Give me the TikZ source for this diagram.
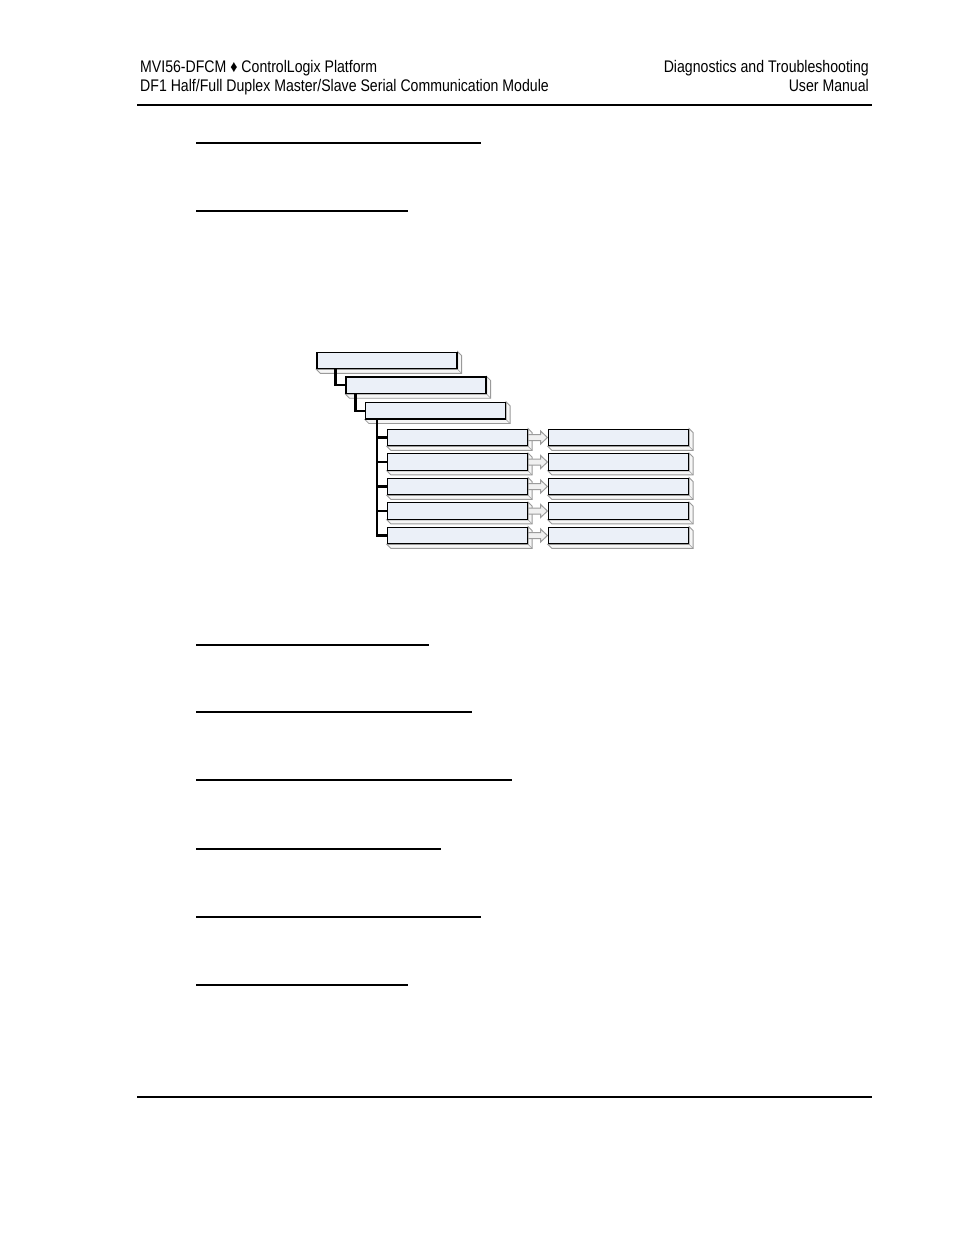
\documentclass[tikz,border=0pt]{standalone}
\usepackage{fontspec}
\setmainfont[FakeStretch=0.84]{Liberation Sans}
\usetikzlibrary{calc}
\pgfdeclarelayer{bottom}
\pgfdeclarelayer{back}
\pgfsetlayers{bottom,back,main}
\definecolor{boxfill}{HTML}{EBF0F8}
\definecolor{sidefill}{HTML}{F6F6F6}
\definecolor{sidedraw}{HTML}{9A9A9A}
\definecolor{arrfill}{HTML}{F0F0F0}
\definecolor{arrdraw}{HTML}{9C9C9C}
\tikzset{
  x=1pt, y=-1pt,
  box/.style={draw=black, line width=1.2pt, fill=boxfill, rectangle,
    minimum width=140pt, minimum height=16.5pt, inner sep=0pt},
  side/.style={draw=sidedraw, line width=0.8pt, fill=sidefill, line join=miter},
  conn/.style={draw=black, line width=2.2pt},
  blockarrow/.style={draw=arrdraw, fill=arrfill, line width=1pt},
  rule/.style={draw=black, line width=1.3pt},
  hdr/.style={font=\fontsize{16.8}{19}\selectfont, inner sep=0pt}
}
\newcommand{\extrude}[1]{%
  \path[side] (#1.north east) -- ++(4,4) -- ($(#1.south east)+(4,4)$) -- ($(#1.south west)+(4,4)$) -- (#1.south west) -- (#1.south east) -- cycle;
  \draw[sidedraw, line width=0.6pt] (#1.south east) -- ++(4,4);
}
\begin{document}
\begin{tikzpicture}
\useasboundingbox (0,0) rectangle (954,1235);
\begin{pgfonlayer}{bottom}
\fill[white] (0,0) rectangle (954,1235);
\end{pgfonlayer}

% header
\node[hdr, anchor=base west] (h1) at (140,72) {MVI56-DFCM ♦ ControlLogix Platform};
\node[hdr, anchor=base west] (h2) at (140,91) {DF1 Half/Full Duplex Master/Slave Serial Communication Module};
\node[hdr, anchor=base east] (h3) at (869,72) {Diagnostics and Troubleshooting};
\node[hdr, anchor=base east] (h4) at (869,91) {User Manual};
\draw[rule] (137,105) -- (872,105);
\draw[rule] (137,1097) -- (872,1097);

% underlines
\foreach \yy/\xe in {143/481, 211/408, 645/429, 712/472, 780/512, 849/441, 917/481, 985/408}
  \draw[rule] (196,\yy) -- (\xe,\yy);

% tree boxes
\node[box] (b1) at (387,360.5) {};
\node[box] (b2) at (416,385.3) {};
\node[box] (b3) at (435.5,410.7) {};
\foreach \i/\yy in {1/437.5, 2/462, 3/486.5, 4/511, 5/535.5} {
  \node[box] (L\i) at (457.5,\yy) {};
  \node[box] (R\i) at (618.5,\yy) {};
}

\begin{pgfonlayer}{back}
% extrusions
\foreach \n in {b1,b2,b3,L1,L2,L3,L4,L5,R1,R2,R3,R4,R5} {
  \extrude{\n}
}
% block arrows
\foreach \i in {1,...,5} {
  \path[blockarrow] ($(L\i.east)+(0,-3)$) -- ++(12.5,0) -- ++(0,-3.5) -- ($(R\i.west)+(-0.5,0)$) -- ($(L\i.east)+(12.5,6.5)$) -- ++(0,-3.5) -- ++(-12.5,0) -- cycle;
}
\end{pgfonlayer}

% connectors
\draw[conn] ([xshift=19pt]b1.south west) |- (b2.west);
\draw[conn] ([xshift=10pt]b2.south west) |- (b3.west);
\coordinate (t3) at ([xshift=12pt]b3.south west);
\draw[conn] (t3) |- (L5.west);
\foreach \i in {1,2,3,4}
  \draw[conn] (t3 |- L\i.west) -- (L\i.west);
\end{tikzpicture}
\end{document}
